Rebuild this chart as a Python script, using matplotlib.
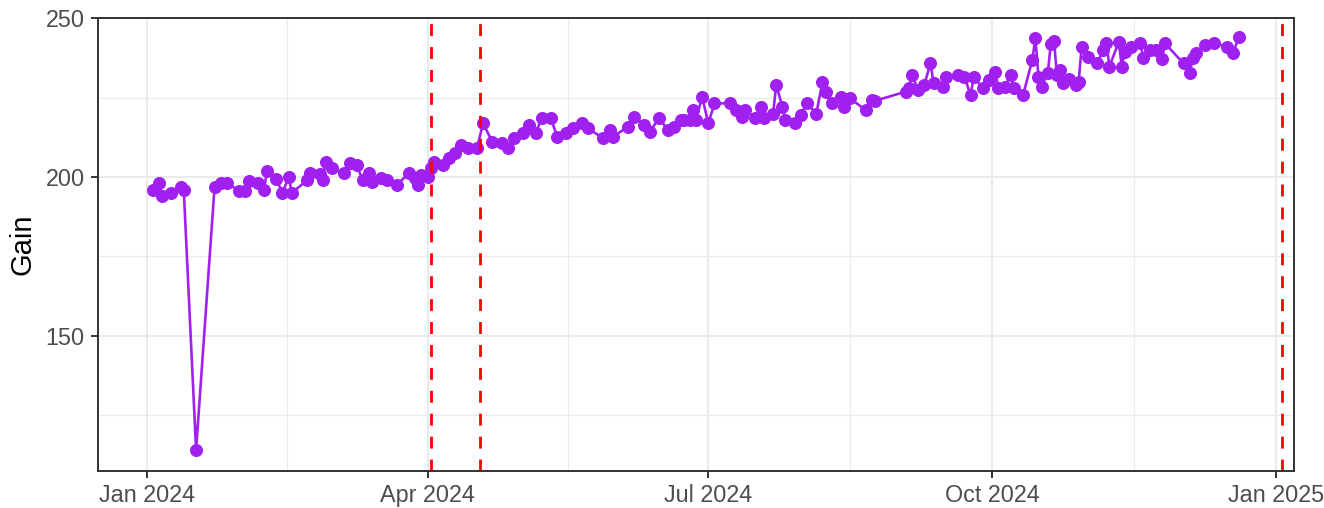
import matplotlib
matplotlib.use("Agg")
import matplotlib.pyplot as plt
import matplotlib.dates as mdates
import numpy as np
import pandas as pd

# ---- data ----
start_date = "2024-01-01"
day_offset = [2, 4, 5, 8, 11, 12, 16, 22, 24, 26, 30, 32, 33, 36, 38, 39, 42, 44, 46, 47,
              52, 53, 56, 57, 58, 60, 64, 66, 68, 70, 72, 73, 76, 78, 81, 85, 87, 88, 89,
              91, 92, 93, 96, 98, 100, 102, 104, 107, 109, 112, 115, 117, 119, 122, 124,
              126, 128, 131, 133, 136, 138, 141, 143, 148, 150, 151, 156, 158, 161, 163,
              166, 169, 171, 173, 174, 176, 177, 178, 180, 182, 184, 189, 191, 193, 194,
              197, 199, 200, 203, 204, 206, 207, 210, 212, 214, 217, 219, 220, 222, 225,
              226, 228, 233, 235, 236, 246, 247, 248, 250, 252, 254, 255, 258, 259, 263,
              265, 267, 268, 271, 273, 275, 276, 278, 280, 281, 284, 287, 288, 289, 290,
              292, 293, 294, 295, 296, 297, 299, 301, 302, 303, 305, 308, 310, 311, 312,
              315, 316, 317, 319, 322, 323, 325, 327, 329, 330, 336, 338, 339, 340, 343,
              346, 350, 352, 354]
gain = [196, 198, 194, 195, 197, 196, 114, 197, 198, 198, 195.7, 195.7, 198.8, 198, 196,
        202, 199.3, 194.9, 200.1, 195,
        199, 201.2, 201, 199, 204.8, 202.7, 201.2, 204.3, 203.8, 199, 201.2, 198.5, 199.6,
        199, 197.5, 201.2, 199.6, 197.5, 200.6,
        200, 202.7, 204.8, 203.8, 205.9, 207.5, 210, 209, 209, 216.9, 211.1, 210.6, 209,
        212.2, 213.8, 216.4,
        213.8, 218.5, 218.5, 212.7, 213.8, 215.3, 217.1, 215.3, 212.2, 214.8, 212.7, 215.8,
        219, 216.5, 214.3,
        218.5, 214.8, 215.8, 218, 218, 218, 221, 218, 225.3, 216.9, 223.2, 223.2, 221.1,
        219, 221.1,
        218.5, 222.2, 218.5, 220, 229, 222.2, 218, 216.9, 219.5, 223.2, 220, 230, 226.9,
        223.2, 225.3,
        222.2, 224.8, 221, 224.3, 224, 226.9, 228, 232.1, 227.4, 229, 236, 229.5, 228.4,
        231.6, 232.1,
        231.6, 225.8, 231.6, 227.9, 230.6, 233.2, 227.9, 228.4, 232.1, 227.9, 225.8, 236.9,
        243.7, 231.6, 228.4,
        232.7, 242, 243, 232, 233.7, 229.5, 231, 229, 230, 241.1, 237.9, 235.8, 240, 242.1,
        234.8,
        242.6, 234.8, 239.5, 241.1, 242.1, 237.4, 240, 240, 237.1, 242.1, 235.8, 232.7,
        237.4, 239, 241.6,
        242.1, 241.1, 239, 244.2]
vline_dates = ["2024-04-02", "2024-04-18", "2025-01-03"]
x_tick_dates = ["2024-01-01", "2024-04-01", "2024-07-01", "2024-10-01", "2025-01-01"]
x_tick_labels = ["Jan 2024", "Apr 2024", "Jul 2024", "Oct 2024", "Jan 2025"]
y_ticks = [150, 200, 250]
y_minor = [125, 175, 225]
y_label = "Gain"

# ---- styling ----
plt.rcParams['font.family'] = ['Liberation Sans', 'DejaVu Sans']
purple = "#A020F0"
grid_col = "#EBEBEB"
dark = "#333333"
txt = "#4D4D4D"

dates = pd.Timestamp(start_date) + pd.to_timedelta(day_offset, unit="D")
xnum = mdates.date2num(dates.to_pydatetime())
base = mdates.date2num(pd.Timestamp(start_date).to_pydatetime())
tick_num = mdates.date2num(pd.to_datetime(x_tick_dates).to_pydatetime())
vnum = mdates.date2num(pd.to_datetime(vline_dates).to_pydatetime())

fig = plt.figure(figsize=(13.24, 5.08), dpi=100)
ax = fig.add_axes([97.5 / 1324, 1 - 470.5 / 508, (1294 - 97.5) / 1324, (470.5 - 17.7) / 508])

ax.set_xlim(base - 15.95, base + 371.8)
ax.set_ylim(107.5, 250.2)

# grid
x_minor = (tick_num[:-1] + tick_num[1:]) / 2
for xm in x_minor:
    ax.axvline(xm, color=grid_col, lw=0.8, zorder=0)
for ym in y_minor:
    ax.axhline(ym, color=grid_col, lw=0.8, zorder=0)
for xt in tick_num:
    ax.axvline(xt, color=grid_col, lw=1.5, zorder=0)
for yt in y_ticks:
    ax.axhline(yt, color=grid_col, lw=1.5, zorder=0)

ax.plot(xnum, gain, color=purple, lw=1.9, zorder=2, solid_capstyle='butt')
ax.plot(xnum, gain, linestyle='none', marker='o', markersize=9.4,
        markerfacecolor=purple, markeredgecolor=purple, markeredgewidth=0, zorder=3)

for v in vnum:
    ax.axvline(v, color="#FF0000", lw=2.0, linestyle=(0, (4.3, 3.95)), zorder=4)

ax.set_xticks(tick_num)
ax.set_xticklabels(x_tick_labels)
ax.set_yticks(y_ticks)
ax.set_yticklabels([str(t) for t in y_ticks])
ax.tick_params(axis='both', which='major', length=5.2, width=1.4, color=dark,
               labelsize=16.8, labelcolor=txt)
ax.tick_params(axis='x', pad=4.5)
ax.tick_params(axis='y', pad=4.0)

for s in ax.spines.values():
    s.set_color(dark)
    s.set_linewidth(1.4)
    s.set_zorder(5)

ax.set_ylabel(y_label, fontsize=21, color="black")
ax.yaxis.set_label_coords(-0.0506, 0.5)

fig.savefig("out.png", dpi=100)
